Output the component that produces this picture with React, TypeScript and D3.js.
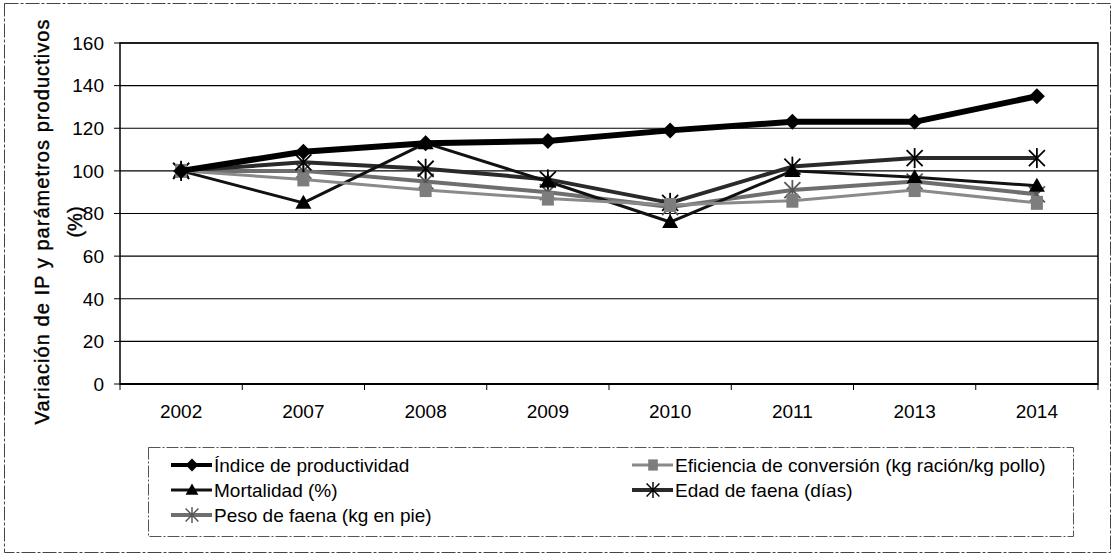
import React from "react";
import * as d3 from "d3";

// years on the category axis
const years = ["2002", "2007", "2008", "2009", "2010", "2011", "2013", "2014"];

// series values (% relative to 2002)
const indiceProd = [100, 109, 113, 114, 119, 123, 123, 135];
const eficiencia = [100, 96, 91, 87, 84, 86, 91, 85];
const mortalidad = [100, 85, 113, 95, 76, 100, 97, 93];
const edadFaena = [100, 104, 101, 96, 85, 102, 106, 106];
const pesoFaena = [100, 100, 95, 90, 83, 91, 95, 89];

const yTicks = [0, 20, 40, 60, 80, 100, 120, 140, 160];

const series = [
  { name: "Índice de productividad", values: indiceProd, color: "#000", width: 6, marker: "diamond", mcolor: "#000" },
  { name: "Eficiencia de conversión (kg ración/kg pollo)", values: eficiencia, color: "#8a8a8a", width: 3, marker: "square", mcolor: "#7d7d7d" },
  { name: "Mortalidad (%)", values: mortalidad, color: "#111", width: 3, marker: "triangle", mcolor: "#000" },
  { name: "Edad de faena (días)", values: edadFaena, color: "#2a2a2a", width: 4, marker: "star", mcolor: "#000" },
  { name: "Peso de faena (kg en pie)", values: pesoFaena, color: "#6e6e6e", width: 4, marker: "star", mcolor: "#555" },
];

const margin = { left: 120, top: 43, right: 1098, bottom: 384 };
const font = "'Liberation Sans', Arial, sans-serif";

const Marker = ({ type, x, y, color }) => {
  if (type === "diamond") {
    return <path d={`M${x},${y - 8}L${x + 8},${y}L${x},${y + 8}L${x - 8},${y}Z`} fill={color} />;
  }
  if (type === "square") {
    return <rect x={x - 6} y={y - 7} width={12} height={14} fill={color} />;
  }
  if (type === "triangle") {
    return <path d={`M${x},${y - 8}L${x + 8},${y + 6}L${x - 8},${y + 6}Z`} fill={color} />;
  }
  // star: X plus vertical bar
  const s = 8;
  return (
    <g stroke={color} strokeWidth={1.8}>
      <line x1={x - s} y1={y - s} x2={x + s} y2={y + s} />
      <line x1={x - s} y1={y + s} x2={x + s} y2={y - s} />
      <line x1={x} y1={y - s - 2} x2={x} y2={y + s + 2} />
    </g>
  );
};

const App = () => {
  const xScale = d3.scaleBand().domain(years).range([margin.left, margin.right]);
  const yScale = d3.scaleLinear().domain([0, 160]).range([margin.bottom, margin.top]);
  const cx = (i) => xScale(years[i]) + xScale.bandwidth() / 2;

  const line = d3
    .line()
    .x((d, i) => cx(i))
    .y((d) => yScale(d));

  // legend layout
  const legendItems = [
    { s: series[0], x: 173, y: 465 },
    { s: series[1], x: 634, y: 465 },
    { s: series[2], x: 173, y: 490 },
    { s: series[3], x: 634, y: 490 },
    { s: series[4], x: 173, y: 515 },
  ];

  const boundaries = years.map((y) => xScale(y)).concat([margin.right]);

  return (
    <div>
      <style>{`body{margin:0}`}</style>
      <svg width={1115} height={557} style={{ display: "block", fontFamily: font }}>
        <rect x={0} y={0} width={1115} height={557} fill="#fff" />
        <rect x={4.5} y={3.5} width={1106} height={549} fill="none" stroke="#444" strokeWidth={1} strokeDasharray="14 2 3 2" />

        {/* gridlines */}
        {yTicks.map((t) => (
          <g key={t}>
            <line x1={margin.left} x2={margin.right} y1={yScale(t)} y2={yScale(t)} stroke="#000" strokeWidth={1.2} />
            <line x1={margin.left - 6} x2={margin.left} y1={yScale(t)} y2={yScale(t)} stroke="#000" strokeWidth={1} />
            <text x={104} y={yScale(t)} dy="0.36em" textAnchor="end" fontSize={19}>
              {t}
            </text>
          </g>
        ))}

        {/* plot frame */}
        <rect
          x={margin.left}
          y={margin.top}
          width={margin.right - margin.left}
          height={margin.bottom - margin.top}
          fill="none"
          stroke="#000"
          strokeWidth={1.5}
        />
        <line x1={margin.left} x2={margin.right} y1={margin.bottom} y2={margin.bottom} stroke="#000" strokeWidth={2} />

        {/* category ticks */}
        {boundaries.map((b, i) => (
          <line key={i} x1={b} x2={b} y1={margin.bottom} y2={margin.bottom + 6} stroke="#000" strokeWidth={1} />
        ))}
        {years.map((y, i) => (
          <text key={y} x={cx(i)} y={418} textAnchor="middle" fontSize={19}>
            {y}
          </text>
        ))}

        {/* y axis title */}
        <g transform="translate(49,222) rotate(-90)">
          <text textAnchor="middle" fontSize={20} fill="#000" stroke="#000" strokeWidth={0.4} textLength={405} lengthAdjust="spacing">
            Variación de IP y parámetros productivos
          </text>
          <text y={33} textAnchor="middle" fontSize={20} fill="#000" stroke="#000" strokeWidth={0.4}>
            (%)
          </text>
        </g>

        {/* series lines, drawn bottom-up so Índice is on top */}
        {series
          .slice()
          .reverse()
          .map((s) => (
            <g key={s.name}>
              <path d={line(s.values)} fill="none" stroke={s.color} strokeWidth={s.width} strokeLinejoin="round" />
              {s.values.map((v, i) => (
                <Marker key={i} type={s.marker} x={cx(i)} y={yScale(v)} color={s.mcolor} />
              ))}
            </g>
          ))}

        {/* legend */}
        <rect x={148.5} y={447.5} width={925} height={89} fill="none" stroke="#555" strokeWidth={1} strokeDasharray="12 2 2 2" />
        {legendItems.map(({ s, x, y }) => (
          <g key={s.name}>
            <line x1={x - 2} x2={x + 39} y1={y} y2={y} stroke={s.color} strokeWidth={Math.min(s.width, 4)} />
            <g transform={`translate(${x + 19},${y}) scale(0.8) translate(${-(x + 19)},${-y})`}>
              <Marker type={s.marker} x={x + 19} y={y} color={s.mcolor} />
            </g>
            <text x={x + 41} y={y} dy="0.36em" fontSize={19}>
              {s.name}
            </text>
          </g>
        ))}
      </svg>
    </div>
  );
};

export default App;
